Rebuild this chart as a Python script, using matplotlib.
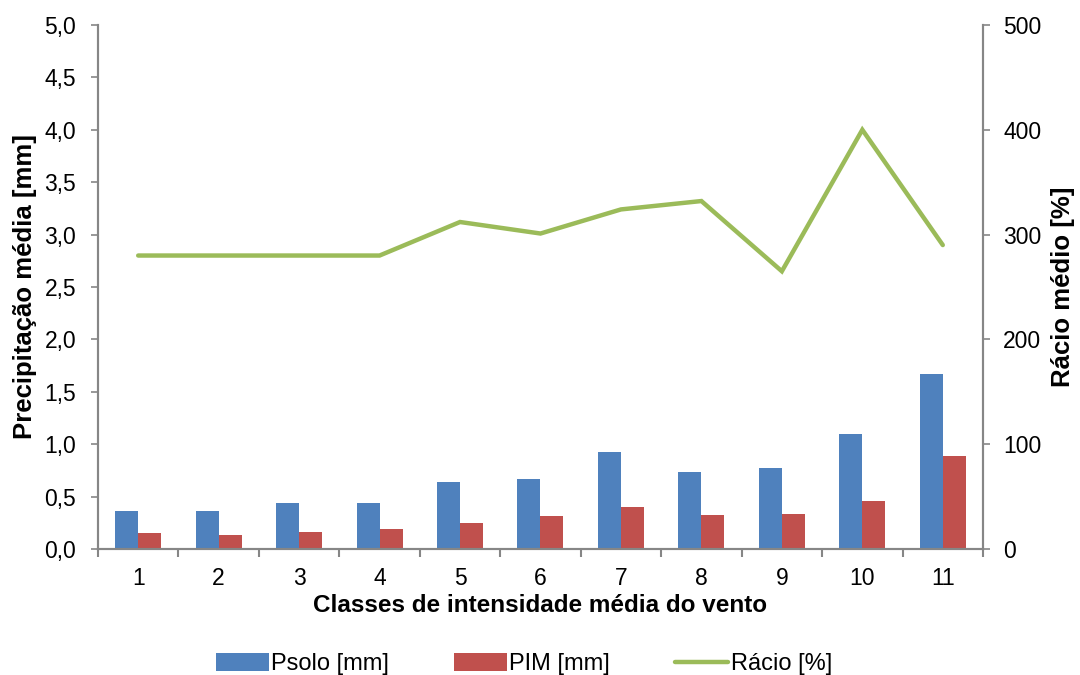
#!/usr/bin/env python3
"""Precipitação média por classe de intensidade do vento."""

import matplotlib
matplotlib.use("Agg")
import matplotlib.pyplot as plt
import numpy as np
from matplotlib.ticker import FuncFormatter, FixedLocator

plt.rcParams["font.family"] = ["Liberation Sans", "DejaVu Sans"]

classes = ["1", "2", "3", "4", "5", "6", "7", "8", "9", "10", "11"]
psolo = [0.36, 0.36, 0.44, 0.44, 0.635, 0.67, 0.93, 0.73, 0.77, 1.10, 1.67]
pim = [0.15, 0.135, 0.16, 0.19, 0.245, 0.31, 0.40, 0.32, 0.33, 0.455, 0.885]
racio = [280, 280, 280, 280, 312, 301, 324, 332, 265, 400, 290]

BLUE = "#4f81bd"
RED = "#c0504d"
GREEN = "#9bbb59"
GREY = "#868686"


def main() -> None:
    x = np.arange(len(classes))
    width = 0.286

    fig = plt.figure(figsize=(10.8, 6.75), dpi=100)
    ax = fig.add_axes([0.0907, 0.1867, 0.8195, 0.7763])
    ax2 = ax.twinx()

    ax.bar(x - width / 2, psolo, width, color=BLUE, label="Psolo [mm]", zorder=2)
    ax.bar(x + width / 2, pim, width, color=RED, label="PIM [mm]", zorder=2)
    ax2.plot(x, racio, color=GREEN, linewidth=3.2, solid_capstyle="round",
             solid_joinstyle="miter", label="Rácio [%]")

    ax.set_xlim(-0.5, len(classes) - 0.5)
    ax.set_ylim(0, 5)
    ax2.set_ylim(0, 500)
    ax.set_yticks(np.arange(0, 5.01, 0.5))
    ax.yaxis.set_major_formatter(FuncFormatter(lambda v, _: f"{v:.1f}".replace(".", ",")))
    ax2.set_yticks(np.arange(0, 501, 100))

    ax.set_xticks(x)
    ax.set_xticklabels(classes)
    ax.xaxis.set_minor_locator(FixedLocator(np.arange(-0.5, len(classes), 1.0)))
    ax.tick_params(axis="x", which="major", length=0, pad=13, labelsize=16.5)
    ax.tick_params(axis="x", which="minor", length=6, width=1.5, color=GREY, direction="out")
    ax.tick_params(axis="y", length=5, width=1.2, color=GREY, labelsize=16.5, pad=10.8)
    ax2.tick_params(axis="y", length=5, width=1.2, color=GREY, labelsize=16.5, pad=9.4)

    for a in (ax, ax2):
        a.spines["top"].set_visible(False)
        for side in ("left", "right", "bottom"):
            a.spines[side].set_color(GREY)
            a.spines[side].set_linewidth(1.5)

    ax.set_xlabel("Classes de intensidade média do vento", fontsize=17.5, fontweight="bold", labelpad=3)
    ax.set_ylabel("Precipitação média [mm]", fontsize=18.5, fontweight="bold", labelpad=5)
    ax2.set_ylabel("Rácio médio [%]", fontsize=18.5, fontweight="bold", rotation=90, labelpad=7)

    handles = ax.get_legend_handles_labels()[0] + ax2.get_legend_handles_labels()[0]
    labels = ax.get_legend_handles_labels()[1] + ax2.get_legend_handles_labels()[1]
    fig.legend(handles, labels, loc="center", bbox_to_anchor=(0.485, 0.016), ncol=3,
               frameon=False, fontsize=17, handlelength=2.25, handleheight=0.75,
               handletextpad=0.1, columnspacing=2.75)

    fig.savefig("out.png", dpi=100)
    plt.close(fig)


if __name__ == "__main__":
    main()
